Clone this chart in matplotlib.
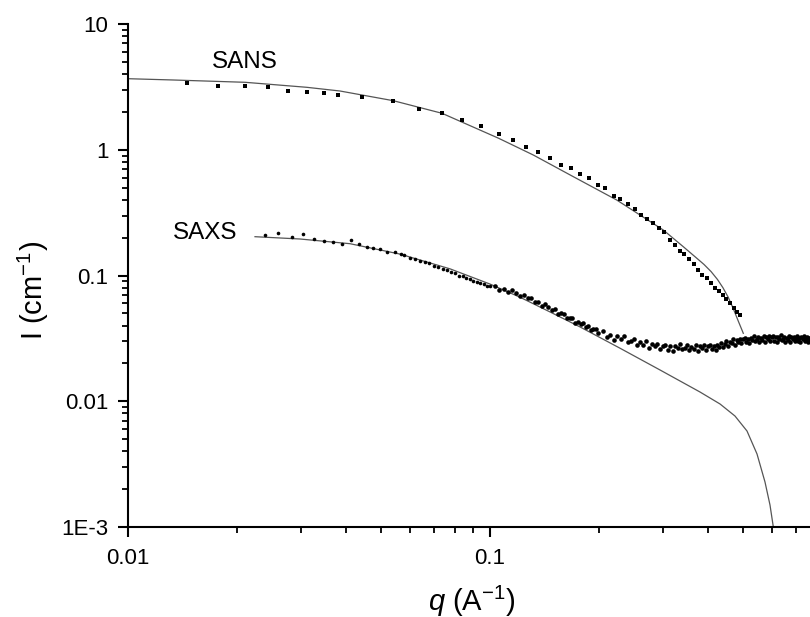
import matplotlib
matplotlib.use("Agg")
import matplotlib.pyplot as plt
from matplotlib.ticker import LogLocator, FixedLocator, FixedFormatter, NullFormatter

plt.rcParams['font.family'] = ['Liberation Sans', 'DejaVu Sans']
plt.rcParams['mathtext.fontset'] = 'custom'
plt.rcParams['mathtext.rm'] = 'Liberation Sans'
plt.rcParams['mathtext.it'] = 'Liberation Sans:italic'

# ---- SANS data (squares) ----
sans_q = [0.01459, 0.01776, 0.02105, 0.02441, 0.02762, 0.03122, 0.03478, 0.03810,
          0.04431, 0.05386, 0.06366, 0.07368, 0.08343, 0.09443, 0.1057, 0.1160,
          0.1255, 0.1357, 0.1465, 0.1568, 0.1677, 0.1773, 0.1874, 0.1988, 0.2083,
          0.2197, 0.2291, 0.2402, 0.2510, 0.2608, 0.2715, 0.2821, 0.2924, 0.3030,
          0.3142, 0.3250, 0.3349, 0.3442, 0.3546, 0.3653, 0.3755, 0.3859, 0.3968,
          0.4078, 0.4192, 0.4292, 0.4393, 0.4496, 0.4603, 0.4712, 0.4812, 0.4914]
sans_I = [3.375, 3.214, 3.214, 3.138, 2.932, 2.879, 2.811, 2.710,
          2.642, 2.428, 2.120, 1.950, 1.724, 1.536, 1.334, 1.195,
          1.057, 0.954, 0.865, 0.7564, 0.7160, 0.6415, 0.5930, 0.5216, 0.4965,
          0.4312, 0.4059, 0.3683, 0.3379, 0.3044, 0.2829, 0.2601, 0.2399, 0.2205,
          0.1915, 0.1747, 0.1566, 0.1474, 0.1360, 0.1228, 0.1106, 0.1015, 0.0950,
          0.0877, 0.0791, 0.0757, 0.0704, 0.0654, 0.0601, 0.0554, 0.0515, 0.0488]

# ---- SANS fit curve ----
sans_fit_q = [0.01, 0.01334, 0.02105, 0.03116, 0.03852, 0.05407, 0.07368, 0.1057,
              0.1317, 0.1699, 0.2239, 0.3011, 0.3420, 0.3700, 0.3900, 0.4080,
              0.4250, 0.4400, 0.4550, 0.4700, 0.4850, 0.5009]
sans_fit_I = [3.673, 3.587, 3.439, 3.138, 2.932, 2.455, 1.950, 1.233,
              0.9084, 0.6107, 0.3984, 0.2300, 0.1694, 0.1396, 0.1225, 0.1075,
              0.0930, 0.0800, 0.0672, 0.0545, 0.0435, 0.0347]

# ---- SAXS data (small dots) ----
saxs_q = [0.02391, 0.02601, 0.02833, 0.03051, 0.03265, 0.03478, 0.03683, 0.03908,
          0.04130, 0.04355, 0.04564, 0.04760, 0.04967, 0.05204, 0.05465, 0.05666,
          0.058, 0.060, 0.062, 0.064, 0.066, 0.068, 0.070, 0.072, 0.074, 0.076,
          0.078, 0.080, 0.082, 0.084, 0.086, 0.088, 0.090, 0.092, 0.094, 0.096,
          0.098, 0.100,
          0.103, 0.106, 0.109, 0.112, 0.115, 0.118, 0.121, 0.124, 0.127, 0.130,
          0.133, 0.136, 0.139, 0.142, 0.145, 0.148, 0.151, 0.154, 0.157, 0.160,
          0.163, 0.166, 0.169, 0.172, 0.175, 0.178, 0.181, 0.184, 0.187, 0.190,
          0.193, 0.196, 0.199,
          0.205, 0.210, 0.215, 0.220, 0.225, 0.230, 0.235, 0.240, 0.245, 0.250,
          0.255, 0.260, 0.265, 0.270, 0.275, 0.280, 0.285, 0.290, 0.295, 0.300,
          0.305, 0.310, 0.315, 0.320, 0.325, 0.330, 0.335, 0.340, 0.345, 0.350,
          0.355, 0.360, 0.365, 0.370, 0.375, 0.380, 0.385, 0.390, 0.395, 0.400,
          0.405, 0.410, 0.415, 0.420, 0.425, 0.430, 0.435, 0.440, 0.445, 0.450,
          0.455, 0.460, 0.465, 0.470, 0.475, 0.480, 0.485, 0.490, 0.495, 0.500,
          0.505, 0.510, 0.515, 0.520, 0.525, 0.530, 0.535, 0.540, 0.545, 0.550,
          0.555, 0.560, 0.565, 0.570, 0.575, 0.580, 0.585, 0.590, 0.595, 0.600,
          0.605, 0.610, 0.615, 0.620, 0.625, 0.630, 0.635, 0.640, 0.645, 0.650,
          0.655, 0.660, 0.665, 0.670, 0.675, 0.680, 0.685, 0.690, 0.695, 0.700,
          0.705, 0.710, 0.715, 0.720, 0.725, 0.730, 0.735, 0.740, 0.745, 0.750,
          0.755, 0.760, 0.765]
saxs_I = [0.2099, 0.2166, 0.2035, 0.2126, 0.1951, 0.1891, 0.1856, 0.1770,
          0.1915, 0.1770, 0.1694, 0.1664, 0.1615, 0.1546, 0.1546, 0.1483,
          0.1446, 0.1380, 0.1360, 0.1310, 0.1280, 0.1250, 0.1190, 0.1170, 0.1130, 0.1100,
          0.1060, 0.1040, 0.1000, 0.0990, 0.0950, 0.0940, 0.0910, 0.0890, 0.0870, 0.0860,
          0.0830, 0.0830,
          0.0827, 0.0769, 0.0784, 0.0744, 0.0766, 0.0729, 0.0687, 0.0700, 0.0657, 0.0663,
          0.0613, 0.0613, 0.0572, 0.0591, 0.0559, 0.0532, 0.0538, 0.0496, 0.0502, 0.0497,
          0.0461, 0.0457, 0.0458, 0.0421, 0.0427, 0.0409, 0.0416, 0.0387, 0.0394, 0.0367,
          0.0374, 0.0373, 0.0348,
          0.0361, 0.0324, 0.0339, 0.0307, 0.0331, 0.0313, 0.0330, 0.0297, 0.0302, 0.0311,
          0.0280, 0.0295, 0.0282, 0.0299, 0.0265, 0.0287, 0.0273, 0.0284, 0.0259, 0.0274,
          0.0281, 0.0257, 0.0273, 0.0252, 0.0276, 0.0265, 0.0283, 0.0259, 0.0267, 0.0278,
          0.0254, 0.0270, 0.0262, 0.0280, 0.0251, 0.0276, 0.0265, 0.0279, 0.0257, 0.0274,
          0.0282, 0.0259, 0.0275, 0.0255, 0.0280, 0.0270, 0.0292, 0.0270, 0.0284, 0.0301,
          0.0277, 0.0297, 0.0290, 0.0312, 0.0281, 0.0309, 0.0298, 0.0314, 0.0291, 0.0310,
          0.0320, 0.0294, 0.0313, 0.0290, 0.0318, 0.0307, 0.0329, 0.0302, 0.0312, 0.0324,
          0.0297, 0.0316, 0.0308, 0.0330, 0.0296, 0.0324, 0.0312, 0.0329, 0.0303, 0.0322,
          0.0332, 0.0303, 0.0322, 0.0297, 0.0325, 0.0312, 0.0334, 0.0306, 0.0314, 0.0327,
          0.0297, 0.0316, 0.0307, 0.0329, 0.0294, 0.0322, 0.0310, 0.0326, 0.0300, 0.0319,
          0.0329, 0.0300, 0.0319, 0.0294, 0.0322, 0.0310, 0.0332, 0.0304, 0.0313, 0.0326,
          0.0297, 0.0316, 0.0307]

# ---- SAXS fit curve ----
saxs_fit_q = [0.02243, 0.02986, 0.04105, 0.05641, 0.07753, 0.1000, 0.1210, 0.1465,
              0.1773, 0.2287, 0.2949, 0.3802, 0.4320, 0.4751, 0.5128, 0.5465,
              0.5750, 0.5936, 0.6063]
saxs_fit_I = [0.2035, 0.1951, 0.1790, 0.1480, 0.1130, 0.0855, 0.0672, 0.0513,
              0.0390, 0.02640, 0.01773, 0.01185, 0.00951, 0.00763, 0.00580, 0.00381,
              0.00228, 0.001496, 0.001]

y_ticks = [1e-3, 1e-2, 1e-1, 1, 10]
y_tick_labels = ['1E-3', '0.01', '0.1', '1', '10']
x_ticks = [0.01, 0.1]
x_tick_labels = ['0.01', '0.1']

W, H = 810, 617
fig = plt.figure(figsize=(W / 100, H / 100), dpi=100)
L, R, T, B = 128, 810, 24, 527
ax = fig.add_axes([L / W, 1 - B / H, (R - L) / W, (B - T) / H])
ax.set_xscale('log')
ax.set_yscale('log')
ax.set_xlim(0.01, 0.7656)
ax.set_ylim(1e-3, 10)

line_col = '#555555'
ax.plot(sans_fit_q, sans_fit_I, '-', color=line_col, lw=0.9, zorder=2)
ax.plot(saxs_fit_q, saxs_fit_I, '-', color=line_col, lw=0.9, zorder=2)
ax.plot(sans_q, sans_I, 's', color='black', ms=3.2, mew=0, zorder=3)
n_sparse = 38
ax.plot(saxs_q[:n_sparse], saxs_I[:n_sparse], 'o', color='black', ms=2.6, mew=0, zorder=3)
ax.plot(saxs_q[n_sparse:], saxs_I[n_sparse:], 'o', color='black', ms=3.3, mew=0, zorder=3)

ax.text(0.02105, 4.99, 'SANS', fontsize=17.5, ha='center', va='center')
ax.text(0.01632, 0.2178, 'SAXS', fontsize=17.5, ha='center', va='center')

for s in ['top', 'right']:
    ax.spines[s].set_visible(False)
for s in ['left', 'bottom']:
    ax.spines[s].set_linewidth(1.5)

ax.yaxis.set_major_locator(FixedLocator(y_ticks))
ax.yaxis.set_major_formatter(FixedFormatter(y_tick_labels))
ax.yaxis.set_minor_locator(LogLocator(base=10, subs=range(2, 10), numticks=20))
ax.yaxis.set_minor_formatter(NullFormatter())
ax.xaxis.set_major_locator(FixedLocator(x_ticks))
ax.xaxis.set_major_formatter(FixedFormatter(x_tick_labels))
ax.xaxis.set_minor_locator(LogLocator(base=10, subs=range(2, 10), numticks=20))
ax.xaxis.set_minor_formatter(NullFormatter())

ax.tick_params(which='major', direction='out', length=7.5, width=1.5, labelsize=16)
ax.tick_params(axis='y', which='major', pad=6.5)
ax.tick_params(axis='x', which='major', pad=7.5)
ax.tick_params(which='minor', direction='out', length=4, width=1.3)

fig.text(472 / W, 1 - 601 / H, r'$\it{q}$ (A$^{\mathregular{-1}}$)', fontsize=21,
         ha='center', va='center')
fig.text(33 / W, 1 - 290 / H, r'I (cm$^{\mathregular{-1}}$)', fontsize=21,
         ha='center', va='center', rotation=90)

fig.savefig('out.png', dpi=100, facecolor='white')
